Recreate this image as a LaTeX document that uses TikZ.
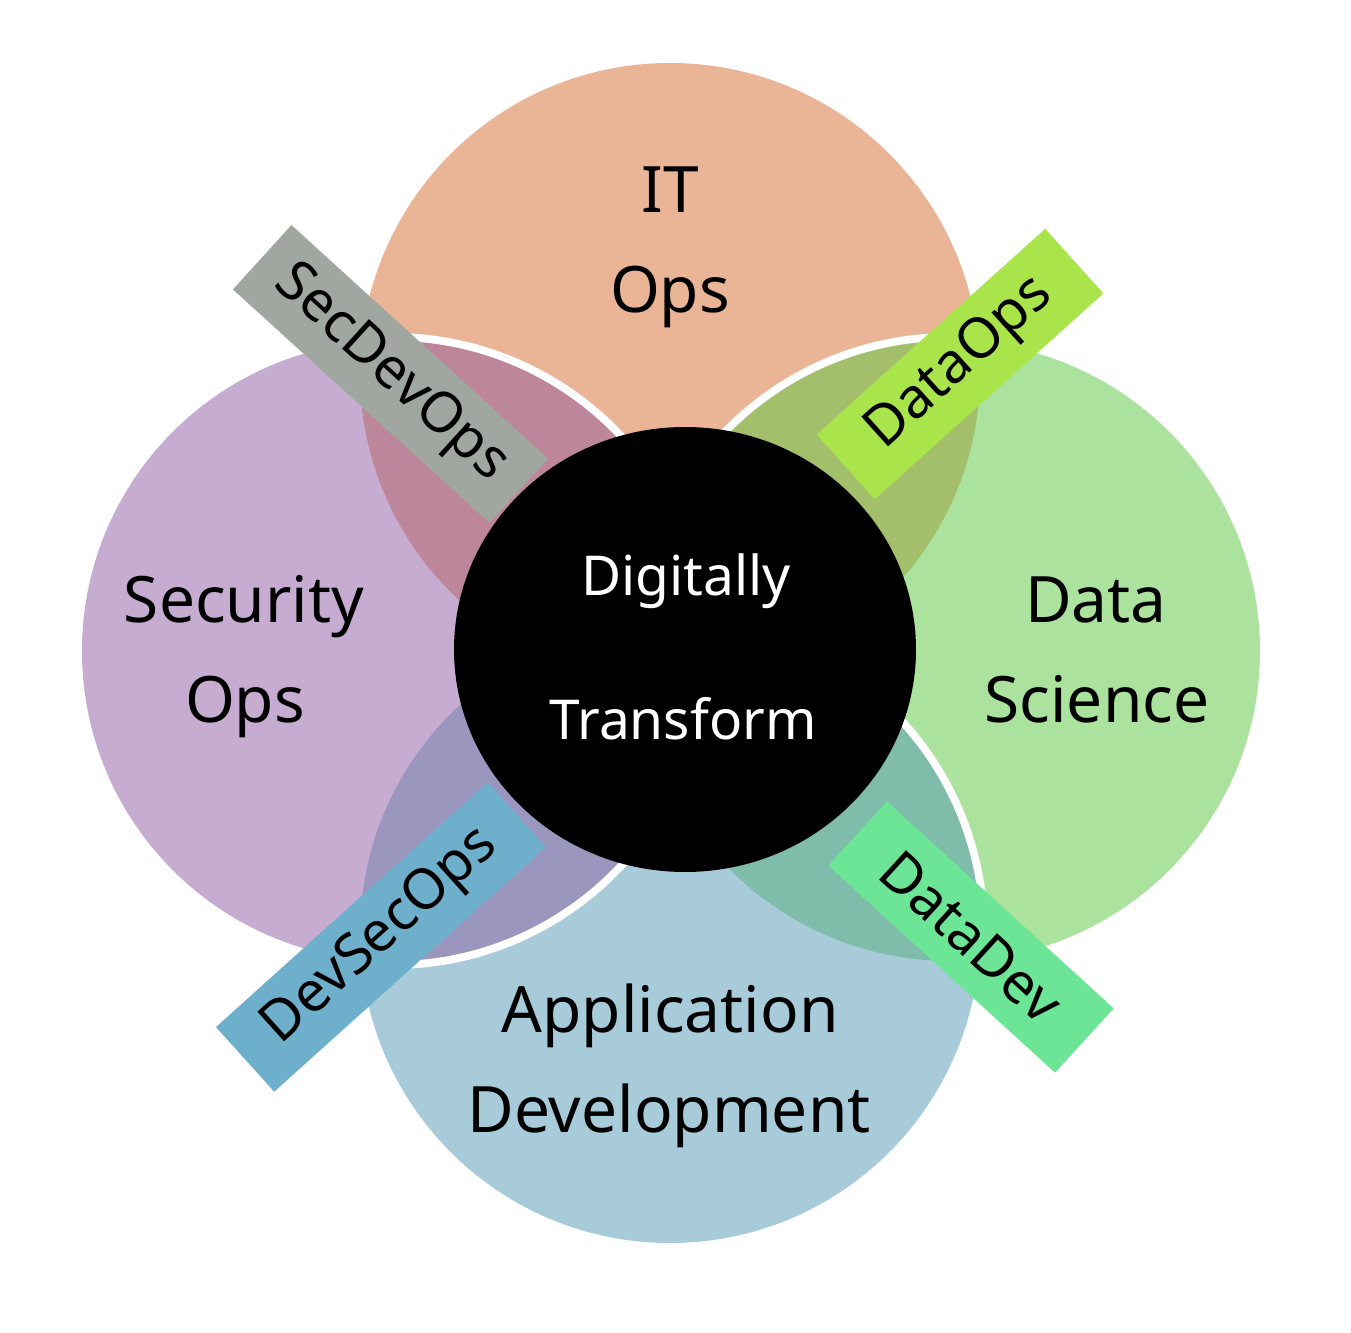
\documentclass[tikz,border=0pt]{standalone}
\usepackage{fontspec}
\setmainfont{Noto Sans}
\usetikzlibrary{shapes.geometric}
\definecolor{cTop}{HTML}{EAB496}
\definecolor{cLeft}{HTML}{C6ACD0}
\definecolor{cRight}{HTML}{ABE29D}
\definecolor{cBot}{HTML}{A8CBDA}
\definecolor{cTL}{HTML}{BE869B}
\definecolor{cTR}{HTML}{A3BF6C}
\definecolor{cBL}{HTML}{9B96BE}
\definecolor{cBR}{HTML}{7FBDAA}
\definecolor{bSec}{HTML}{A0A7A0}
\definecolor{bDataOps}{HTML}{A8E44A}
\definecolor{bDevSec}{HTML}{6EB0CB}
\definecolor{bDataDev}{HTML}{6CE596}
\tikzset{
  ring/.style={draw=white, line width=8pt},
  biglab/.style={font=\fontsize{32}{38}\selectfont, anchor=base, inner sep=0pt},
  corelab/.style={font=\fontsize{27.5}{33}\selectfont, anchor=base, inner sep=0pt, text=white},
  tagbox/.style={rectangle, minimum height=43.5pt, inner sep=0pt, draw=none,
    font=\fontsize{28}{34}\selectfont},
}
\begin{document}
\begin{tikzpicture}[x=0.5pt,y=-0.5pt]
\useasboundingbox (0,0) rectangle (1351,1333);
\coordinate (T) at (670,373);
\coordinate (R) at (950,651);
\coordinate (B) at (670,933);
\coordinate (L) at (392,651);
% top circle
\fill[cTop] (T) circle[radius=310];
% right circle
\draw[ring, fill=cRight] (R) circle[radius=310];
\fill[cRight] (R) circle[radius=310];
\begin{scope}
  \clip (R) circle[radius=310];
  \fill[cTR] (T) circle[radius=310];
\end{scope}
% bottom circle
\draw[ring, fill=cBot] (B) circle[radius=310];
\fill[cBot] (B) circle[radius=310];
\begin{scope}
  \clip (B) circle[radius=310];
  \fill[cBR] (R) circle[radius=310];
\end{scope}
% left circle
\draw[ring, fill=cLeft] (L) circle[radius=310];
\fill[cLeft] (L) circle[radius=310];
\begin{scope}
  \clip (L) circle[radius=310];
  \fill[cTL] (T) circle[radius=310];
  \fill[cBL] (B) circle[radius=310];
\end{scope}
% centre
\node[ellipse, fill=black, inner sep=0pt, minimum width=231pt, minimum height=222.5pt] (core) at (685,649.5) {};
\node[corelab] (dig) at (686,595) {Digitally};
\node[corelab] (tra) at (683,739) {Transform};
% circle labels
\node[biglab] (it1) at (670,212) {IT};
\node[biglab] (it2) at (670,312) {Ops};
\node[biglab] (se1) at (244,622) {Security};
\node[biglab] (se2) at (245,722) {Ops};
\node[biglab] (ds1) at (1096,622) {Data};
\node[biglab] (ds2) at (1097,722) {Science};
\node[biglab] (ad1) at (670,1032) {Application};
\node[biglab] (ad2) at (669,1132) {Development};
% tags
\node[tagbox, fill=bSec, minimum width=173.5pt, rotate=-42.3] (secbox) at (390.5,374) {SecDevOps};
\node[tagbox, fill=bDataOps, minimum width=153.8pt, rotate=42] (dobox) at (960,364) {DataOps\hspace{10pt}};
\node[tagbox, fill=bDevSec, minimum width=182.9pt, rotate=42] (dsbox) at (381,937) {DevSecOps\hspace{6pt}};
\node[tagbox, fill=bDataDev, minimum width=153.5pt, rotate=-42.4] (ddbox) at (971,937) {DataDev\hspace{10pt}};
\end{tikzpicture}
\end{document}
